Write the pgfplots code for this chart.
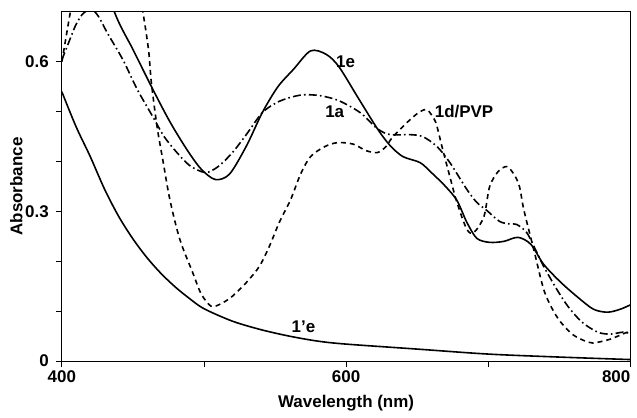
\documentclass[border=0pt]{standalone}
\usepackage{pgfplots}
\pgfplotsset{compat=1.18}
\usepackage{fontspec}
\setmainfont{Liberation Sans}

\begin{document}
\begin{tikzpicture}
\begin{axis}[
   scale only axis,
   width=285pt, height=175pt,
   xmin=400, xmax=800, ymin=0, ymax=0.7,
   xtick={400,500,600,700,800},
   xticklabels={400,,600,,\llap{800}},
   ytick={0,0.1,0.2,0.3,0.4,0.5,0.6},
   yticklabels={0,,,0.3,,,0.6},
   tick align=outside,
   major tick length=3pt,
   xtick pos=bottom, ytick pos=left,
   tick style={black, line width=0.4pt},
   axis line style={line width=0.5pt},
   /pgf/number format/assume math mode=true,
   ticklabel style={font=\fontsize{8.5}{10}\selectfont\bfseries},
   xticklabel style={yshift=1.5pt},
   label style={font=\fontsize{8.5}{10}\selectfont\bfseries},
   xlabel={Wavelength (nm)},
   ylabel={Absorbance},
   xlabel style={yshift=1pt},
   ylabel style={at={(axis description cs:-0.08,0.5)}, anchor=center},
   every axis plot/.append style={black, line width=0.8pt, smooth, tension=0.5, mark=none},
]
% 1e
\addplot[solid] coordinates {
(420,0.85) (437,0.70) (450,0.625) (464,0.545) (476,0.48) (488,0.424) (498,0.385)
(508,0.364) (518,0.375) (530,0.432) (541,0.498) (552,0.55) (563,0.585) (575,0.622)
(586,0.615) (595,0.59) (608,0.53) (622,0.466) (631,0.432) (640,0.41) (652,0.398)
(660,0.378) (670,0.35) (678,0.322) (685,0.278) (692,0.246) (701,0.238) (711,0.24)
(721,0.248) (730,0.234) (739,0.194) (751,0.158) (763,0.128) (774,0.104) (784,0.098)
(793,0.104) (801,0.114)
};
% 1a
\addplot[dash pattern=on 4pt off 1.6pt on 0.8pt off 1.6pt] coordinates {
(400,0.604) (405,0.64) (410,0.675) (415,0.697) (421,0.705) (426,0.69) (432,0.658)
(443,0.604) (453,0.545) (464,0.49) (472,0.45) (481,0.418) (490,0.392) (501,0.378)
(510,0.39) (520,0.418) (530,0.455) (541,0.498) (551,0.518) (560,0.528) (570,0.534)
(582,0.532) (595,0.522) (610,0.498) (622,0.466) (631,0.454) (645,0.454) (654,0.45)
(664,0.43) (673,0.398) (685,0.344) (692,0.318) (699,0.302) (708,0.28) (715,0.275)
(720,0.274) (727,0.258) (733,0.225) (739,0.19) (748,0.145) (756,0.11) (766,0.078)
(777,0.058) (786,0.054) (795,0.058) (801,0.054)
};
% 1d/PVP
\addplot[dash pattern=on 2.5pt off 2pt] coordinates {
(400,0.60) (403,0.65) (406,0.70) (410,0.76) (420,0.85) (440,0.88) (450,0.80)
(455,0.72) (457,0.70) (461,0.624) (463,0.558) (467,0.47) (471,0.404) (476,0.324)
(483,0.244) (492,0.178) (498,0.135) (505,0.11) (512,0.115) (520,0.13) (530,0.158)
(539,0.19) (546,0.23) (553,0.278) (561,0.324) (568,0.375) (575,0.41) (585,0.43)
(594,0.438) (605,0.435) (614,0.422) (622,0.418) (628,0.43) (633,0.45) (645,0.484)
(652,0.5) (657,0.504) (662,0.485) (664,0.47) (668,0.424) (673,0.37) (678,0.318)
(685,0.264) (690,0.258) (697,0.29) (701,0.35) (707,0.38) (713,0.39) (718,0.375)
(722,0.35) (725,0.304) (732,0.224) (739,0.144) (745,0.105) (751,0.078) (760,0.052)
(770,0.038) (774,0.036) (786,0.044) (798,0.058) (801,0.056)
};
% 1'e
\addplot[solid] coordinates {
(400,0.54) (410,0.47) (420,0.41) (430,0.345) (440,0.29) (450,0.245) (460,0.207)
(470,0.175) (480,0.148) (490,0.125) (500,0.105) (520,0.08) (540,0.063) (560,0.05)
(580,0.04) (600,0.034) (650,0.024) (700,0.014) (750,0.008) (800,0.003)
};
\begin{scope}[font=\fontsize{8.5}{10}\selectfont\bfseries]
\node[anchor=west] at (axis cs:588,0.6) {1e};
\node at (axis cs:592,0.50) {1a};
\node at (axis cs:683,0.50) {1d/PVP};
\node at (axis cs:570,0.068) {1'e};
\end{scope}
\end{axis}
\path ([xshift=-31pt,yshift=6pt]current axis.north west);
\end{tikzpicture}
\end{document}
